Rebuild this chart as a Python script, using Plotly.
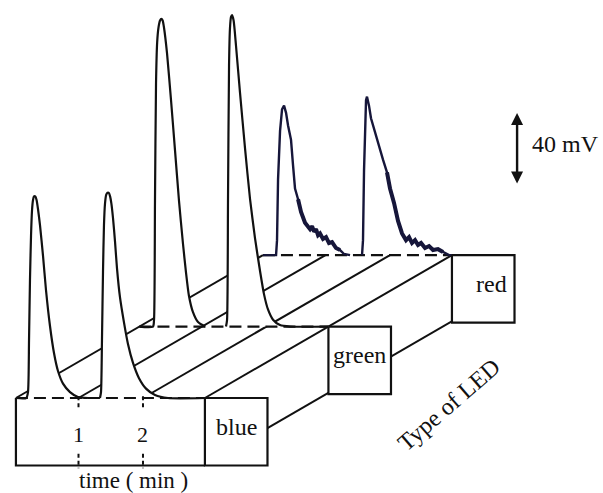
import plotly.graph_objects as go

# ---------------- data (time in min, signal in mV) ----------------
led_types = ["blue", "green", "red"]
tick_times = [1, 2]
tick_labels = ["1", "2"]
scale_bar_mv = 40

blue_peak1_time = [0.03, 0.19, 0.217, 0.233, 0.248, 0.264, 0.279, 0.295, 0.31, 0.33, 0.35, 0.372, 0.403,
                   0.45, 0.496, 0.558, 0.62, 0.682, 0.76, 0.868, 0.992, 1.147]
blue_peak1_mv = [0, 0, 3.3, 32, 66, 90, 104, 110, 112, 112, 110, 105, 96, 79, 60, 40, 25, 15, 8, 3.3, 0.6, 0]
blue_peak2_time = [1.333, 1.349, 1.364, 1.38, 1.395, 1.411, 1.43, 1.45, 1.47, 1.49, 1.51, 1.535, 1.566,
                   1.597, 1.643, 1.705, 1.767, 1.845, 1.938, 2.047, 2.186, 2.388, 2.96]
blue_peak2_mv = [0, 3.3, 32, 70, 96, 108, 113, 114, 114, 112, 108, 100, 87, 72, 56, 42, 30, 19.5, 11, 5.2,
                 1.7, 0, 0]

green_peak1_time = [0.03, 0.24, 0.256, 0.271, 0.287, 0.305, 0.325, 0.349, 0.37, 0.39, 0.411, 0.457, 0.519,
                    0.581, 0.643, 0.705, 0.752, 0.798, 0.86, 0.938, 1.047]
green_peak1_mv = [0, 0, 3.6, 70, 135, 158, 166, 170, 171, 170, 166, 152, 126, 98, 70, 46, 30, 17, 8, 2.5, 0]
green_peak2_time = [1.372, 1.388, 1.403, 1.419, 1.434, 1.45, 1.466, 1.49, 1.527, 1.589, 1.667, 1.744,
                    1.822, 1.899, 1.961, 2.023, 2.101, 2.209, 2.364, 2.96]
green_peak2_mv = [0, 3.6, 70, 145, 166, 172, 173, 170, 156, 130, 99, 71, 49, 31, 18, 9.5, 3.8, 0.8, 0, 0]

red_peak1_time = [0.03, 0.233, 0.248, 0.264, 0.295, 0.326, 0.357, 0.388, 0.419, 0.465, 0.496, 0.527,
                  0.574, 0.62, 0.682, 0.729, 0.76, 0.791, 0.822, 0.853, 0.884, 0.915, 0.961, 1.008,
                  1.054, 1.101, 1.163, 1.225, 1.287, 1.38]
red_peak1_mv = [0, 0, 8.3, 42, 69, 81, 83, 79, 72, 64, 50, 37, 31, 24, 18, 16, 14.4, 16, 13, 14.4, 11,
                12, 9, 10, 6.7, 7.2, 3.9, 2.8, 0.6, 0]
red_peak2_time = [1.566, 1.581, 1.597, 1.612, 1.628, 1.643, 1.674, 1.705, 1.767, 1.829, 1.891, 1.953,
                  2.0, 2.062, 2.124, 2.186, 2.248, 2.295, 2.341, 2.388, 2.434, 2.481, 2.543, 2.605,
                  2.667, 2.744, 2.822, 2.915, 2.96]
red_peak2_mv = [0, 8.3, 47, 75, 86, 88, 83, 76, 68, 61, 53, 46, 37, 29, 19, 12, 8.3, 10, 6.7, 8.3, 5.6,
                6.7, 3.9, 5, 2.8, 3.3, 1.7, 0, 0]

peaks = {
    "blue": [(blue_peak1_time, blue_peak1_mv), (blue_peak2_time, blue_peak2_mv)],
    "green": [(green_peak1_time, green_peak1_mv), (green_peak2_time, green_peak2_mv)],
    "red": [(red_peak1_time, red_peak1_mv), (red_peak2_time, red_peak2_mv)],
}

# ---------------- geometry / style ----------------
DT, DV = 1.915, 39.7          # oblique depth offset between LED rows (in axis units)
T0, T1 = 0.03, 2.96           # time span of each row
BOX_W, BOX_H = 0.97, 37.5     # label box size
INK = "#111111"
RED_INK = "#16163a"
FONT = "Liberation Serif"
LW = 2.2

fig = go.Figure()


def shift(ts, vs, r):
    return [t + r * DT for t in ts], [v + r * DV for v in vs]


def line(xs, ys, width=LW, color=INK, dash="solid", shape="linear"):
    fig.add_trace(go.Scatter(x=xs, y=ys, mode="lines",
                             line=dict(color=color, width=width, dash=dash, shape=shape,
                                       smoothing=0.6 if shape == "spline" else None),
                             hoverinfo="skip", showlegend=False))


def filled(xs, ys, border=0.0, shape="linear"):
    fig.add_trace(go.Scatter(x=xs, y=ys, mode="lines", fill="toself", fillcolor="white",
                             line=dict(color=INK if border else "rgba(0,0,0,0)",
                                       width=border if border else 0.5, shape=shape,
                                       smoothing=0.6 if shape == "spline" else None),
                             hoverinfo="skip", showlegend=False))


# depth (oblique) lines across the rows
for t in [T0] + tick_times + [T1]:
    line([t, t + 2 * DT], [0, 2 * DV], width=2.0)
mid = -BOX_H * 0.445
line([T1 + BOX_W, T1 + BOX_W + 2 * DT], [mid, mid + 2 * DV], width=2.0)

# rows, back to front
for r in reversed(range(len(led_types))):
    name = led_types[r]
    is_red = name == "red"
    col = RED_INK if is_red else INK
    shp = "linear" if is_red else "spline"
    for ts, vs in peaks[name]:
        xs, ys = shift(ts, vs, r)
        filled(xs, ys, shape=shp)
    bx, by = shift([T0, T1], [0, 0], r)
    line(bx, by, width=LW, dash="12px,6px")
    for ts, vs in peaks[name]:
        xs, ys = shift(ts, vs, r)
        line(xs, ys, width=2.4 if is_red else LW, color=col, shape=shp)
        if is_red:
            # noisy tail drawn heavier, as in the recorder trace
            k = vs.index(max(vs)) + 6
            line(xs[k:-2], ys[k:-2], width=4.0, color=col)
    # label box
    x0, y0 = T1 + r * DT, r * DV
    filled([x0, x0 + BOX_W, x0 + BOX_W, x0, x0], [y0, y0, y0 - BOX_H, y0 - BOX_H, y0], border=LW)
    fig.add_annotation(x=x0 + BOX_W / 2, y=y0 - 16, text=name, showarrow=False,
                       xshift=8 if is_red else 0,
                       font=dict(family=FONT, size=24, color=INK))

# front panel of the blue row with time ticks
line([T0, T0, T1], [0, -BOX_H, -BOX_H])
for t, lab in zip(tick_times, tick_labels):
    line([t, t], [1, -6.5], width=2.0, dash="4px,3px")
    line([t, t], [-31, -39], width=2.0, dash="4px,3px")
    fig.add_annotation(x=t, y=-20.5, text=lab, showarrow=False,
                       font=dict(family=FONT, size=22, color=INK))

fig.add_annotation(x=1.86, y=-46.0, text="time ( min )", showarrow=False,
                   font=dict(family=FONT, size=23, color=INK))
fig.add_annotation(x=6.74, y=-4, text="Type of LED", showarrow=False, textangle=-41,
                   font=dict(family=FONT, size=24, color=INK))

# 40 mV scale bar
bar_x, bar_y0 = 7.8, 118.3
fig.add_annotation(x=bar_x, y=bar_y0 + scale_bar_mv, ax=bar_x, ay=bar_y0, axref="x", ayref="y",
                   xref="x", yref="y", text="", showarrow=True, arrowhead=2, arrowside="end+start",
                   arrowwidth=2.4, arrowsize=1.0, arrowcolor=INK)
fig.add_annotation(x=8.0, y=bar_y0 + scale_bar_mv / 2 + 3, text=f"{scale_bar_mv} mV", showarrow=False,
                   xanchor="left", font=dict(family=FONT, size=24, color=INK))

fig.update_layout(
    width=603, height=493, autosize=False,
    margin=dict(l=0, r=0, t=0, b=0),
    paper_bgcolor="white", plot_bgcolor="white",
    xaxis=dict(range=[-0.217, 9.132], visible=False, fixedrange=True),
    yaxis=dict(range=[-52.78, 221.11], visible=False, fixedrange=True),
    showlegend=False,
)

fig.write_html("out.html")
